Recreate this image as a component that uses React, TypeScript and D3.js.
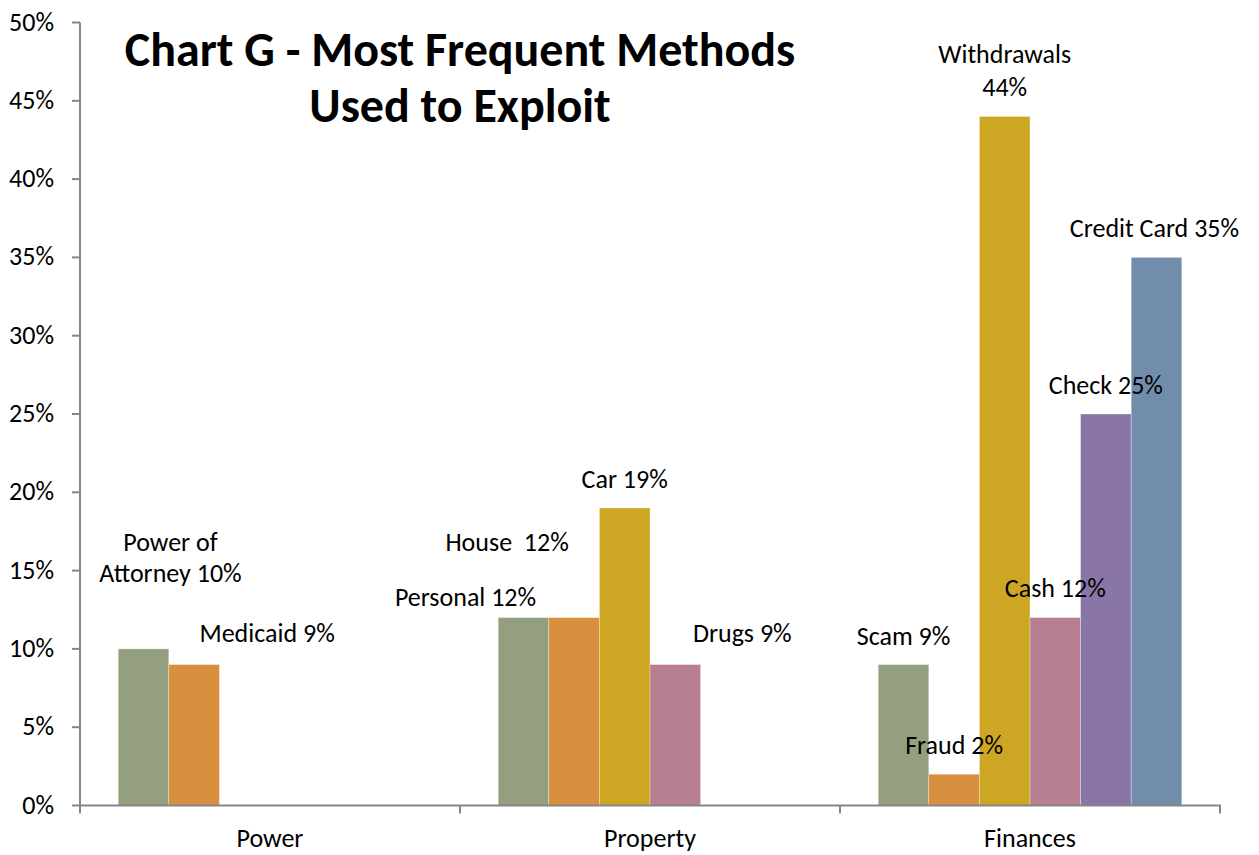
import * as d3 from "d3";

const groups = ["Power", "Property", "Finances"];
const methods = ["Power of Attorney", "Medicaid", "Personal", "House", "Car", "Drugs", "Scam", "Fraud", "Withdrawals", "Cash", "Check", "Credit Card"];
const groupOf = [0, 0, 1, 1, 1, 1, 2, 2, 2, 2, 2, 2];
const slotOf = [0, 1, 0, 1, 2, 3, 0, 1, 2, 3, 4, 5];
const values = [0.10, 0.09, 0.12, 0.12, 0.19, 0.09, 0.09, 0.02, 0.44, 0.12, 0.25, 0.35];
const labelLines = [
  ["Power of", "Attorney 10%"], ["Medicaid 9%"], ["Personal 12%"], ["House  12%"], ["Car 19%"], ["Drugs 9%"],
  ["Scam 9%"], ["Fraud 2%"], ["Withdrawals", "44%"], ["Cash 12%"], ["Check 25%"], ["Credit Card 35%"],
];
const yTicks = [0, 0.05, 0.1, 0.15, 0.2, 0.25, 0.3, 0.35, 0.4, 0.45, 0.5];
const titleLines = ["Chart G - Most Frequent Methods", "Used to Exploit"];

// hand-placed label offsets (from bar centre / bar top), like the original
const labelDx = [27, 73, -58, -67, 0, 67, 0, 0, 0, 0, 0, -2];
const labelDy = [-67, -23, -12, -67, -20, -23, -20, -20, -20, -21, -20, -20];
const slotColors = ["#939F7F", "#D8903E", "#CDA724", "#B77F90", "#8975A7", "#728CAC"];

const W = 1259;
const H = 855;
const font = "Calibri, Carlito, 'Open Sans', sans-serif";
const axisColor = "#868686";

export default function App() {
  const y = d3.scaleLinear().domain([0, 0.5]).range([805.5, 22.5]);
  const x0 = d3.scaleBand<string>().domain(groups).range([80, 1220]).padding(0);
  const x1 = d3
    .scaleBand<number>()
    .domain(d3.range(6))
    .range([0, x0.bandwidth()])
    .paddingInner(0)
    .paddingOuter(0.755);
  const fmt = d3.format(".0%");

  return (
    <svg
      width={W}
      height={H}
      style={{ position: "absolute", left: 0, top: 0, background: "#fff" }}
      fontFamily={font}
    >
      {/* title */}
      <g fontWeight="bold" fontSize={48} textAnchor="middle" fill="#000">
        {titleLines.map((t, i) => (
          <text key={t} x={460} y={66 + i * 56}>{t}</text>
        ))}
      </g>

      {/* bars */}
      {values.map((v, i) => {
        const bx = (x0(groups[groupOf[i]]) ?? 0) + (x1(slotOf[i]) ?? 0);
        return (
          <rect
            key={methods[i]}
            x={bx}
            y={y(v)}
            width={x1.bandwidth()}
            height={y(0) - y(v)}
            fill={slotColors[slotOf[i]]}
            stroke="#fff"
            strokeOpacity={0.5}
            strokeWidth={0.6}
          />
        );
      })}

      {/* y axis */}
      <g stroke={axisColor} strokeWidth={2}>
        <line x1={80} x2={80} y1={y(0.5)} y2={y(0)} />
        {yTicks.map((t) => (
          <line key={t} x1={72} x2={80} y1={y(t)} y2={y(t)} />
        ))}
      </g>
      <g fontSize={26} textAnchor="end" fill="#000">
        {yTicks.map((t) => (
          <text key={t} x={54} y={y(t) + 8}>{fmt(t)}</text>
        ))}
      </g>

      {/* x axis */}
      <g stroke={axisColor} strokeWidth={2}>
        <line x1={79} x2={1221} y1={y(0)} y2={y(0)} />
        {groups.map((g) => (
          <line key={g} x1={x0(g)} x2={x0(g)} y1={y(0)} y2={y(0) + 8} />
        ))}
        <line x1={1220} x2={1220} y1={y(0)} y2={y(0) + 8} />
      </g>
      <g fontSize={26} textAnchor="middle" fill="#000">
        {groups.map((g) => (
          <text key={g} x={(x0(g) ?? 0) + x0.bandwidth() / 2} y={847}>{g}</text>
        ))}
      </g>

      {/* data labels */}
      <g fontSize={26} textAnchor="middle" fill="#000">
        {values.map((v, i) => {
          const cx = (x0(groups[groupOf[i]]) ?? 0) + (x1(slotOf[i]) ?? 0) + x1.bandwidth() / 2 + labelDx[i];
          const lines = labelLines[i];
          const base = y(v) + labelDy[i];
          const step = lines.length > 1 && i === 8 ? 33 : 31;
          return (
            <text key={methods[i]} x={cx} y={base - (lines.length - 1) * step} xmlSpace="preserve" style={{ whiteSpace: "pre" }}>
              {lines.map((l, k) => (
                <tspan key={k} x={cx} dy={k === 0 ? 0 : step}>{l}</tspan>
              ))}
            </text>
          );
        })}
      </g>
    </svg>
  );
}
